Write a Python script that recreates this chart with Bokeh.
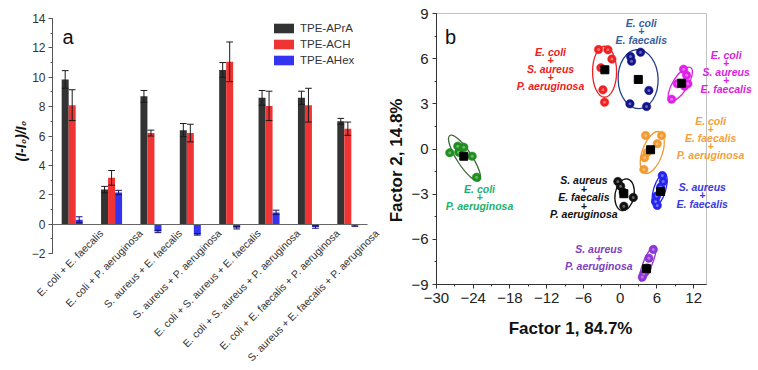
from bokeh.plotting import figure
from bokeh.models import (ColumnDataSource, Range1d, SingleIntervalTicker, FixedTicker,
                          LinearAxis, Label, LabelSet, BoxAnnotation)
from bokeh.transform import dodge
from bokeh.layouts import row
from bokeh.embed import file_html
from bokeh.resources import INLINE
from bokeh.core.properties import value

FONT = "Liberation Sans"

# ---------------- panel a data ----------------
mixtures = ["E. coli + E. faecalis", "E. coli + P. aeruginosa", "S. aureus + E. faecalis",
            "S. aureus + P. aeruginosa", "E. coli + S. aureus + E. faecalis",
            "E. coli + S. aureus + P. aeruginosa", "E. coli + E. faecalis + P. aeruginosa",
            "S. aureus + E. faecalis + P. aeruginosa"]
apra = [9.85, 2.35, 8.7, 6.4, 10.5, 8.6, 8.6, 7.0]
apra_err = [0.6, 0.22, 0.4, 0.45, 0.5, 0.5, 0.45, 0.2]
ach = [8.1, 3.15, 6.2, 6.2, 11.05, 8.05, 8.1, 6.5]
ach_err = [1.05, 0.5, 0.2, 0.6, 1.35, 1.0, 1.15, 0.45]
ahex = [0.3, 2.15, -0.5, -0.7, -0.25, 0.8, -0.2, -0.1]
ahex_err = [0.2, 0.15, 0.08, 0.05, 0.08, 0.15, 0.08, 0.05]
series_names = ["TPE-APrA", "TPE-ACH", "TPE-AHex"]

# ---------------- panel b data ----------------
green_x = [-27.83, -26.52, -25.54, -24.17, -23.46, -26.36]
green_y = [-0.25, 0.19, 0.12, -0.48, -1.87, -0.21]
red_x = [-3.53, -2.0, -1.35, -3.15, -2.82, -2.55]
red_y = [6.61, 6.59, 5.97, 5.39, 3.93, 3.11]
navy_x = [1.70, 1.86, 3.33, 4.69, 1.59, 4.31]
navy_y = [6.14, 5.83, 6.43, 3.89, 3.0, 2.82]
magenta_x = [10.36, 10.85, 9.33, 11.06, 10.52, 8.40]
magenta_y = [5.30, 4.90, 4.33, 4.33, 4.17, 3.31]
orange_x = [4.15, 6.76, 6.06, 4.43, 3.99, 3.87]
orange_y = [0.90, 0.90, 0.35, -0.21, -0.58, -1.36]
black_x = [-0.38, 0.07, 0.51, 2.14, 0.60]
black_y = [-2.16, -2.47, -2.87, -3.22, -3.80]
blue_x = [6.88, 7.04, 6.60, 5.95, 5.78, 6.06]
blue_y = [-1.76, -2.16, -2.53, -3.13, -3.48, -3.75]
purple_x = [5.41, 4.69, 4.40, 4.15, 3.87, 3.61]
purple_y = [-6.67, -7.25, -7.90, -8.13, -8.28, -8.51]

cluster_labels = ["E. coli\n+\nP. aeruginosa", "E. coli\n+\nS. aureus\n+\nP. aeruginosa",
                  "E. coli\n+\nE. faecalis", "E. coli\n+\nS. aureus\n+\nE. faecalis",
                  "E. coli\n+\nE. faecalis\n+\nP. aeruginosa",
                  "S. aureus\n+\nE. faecalis\n+\nP. aeruginosa",
                  "S. aureus\n+\nE. faecalis", "S. aureus\n+\nP. aeruginosa"]
centroid_x = [-25.54, -2.50, 2.96, 10.03, 4.97, 0.60, 6.60, 4.31]
centroid_y = [-0.48, 5.26, 4.62, 4.37, -0.05, -2.97, -2.82, -7.95]
ellipse_x = [-25.42, -2.55, 2.93, 9.82, 5.24, 0.72, 6.44, 4.50]
ellipse_y = [-0.61, 5.13, 4.64, 4.31, -0.23, -3.04, -2.71, -7.60]
label_x = [-22.97, -11.37, 3.45, 17.3, 14.77, -5.93, 13.41, -3.48]
label_y = [-3.2, 5.33, 7.82, 5.13, 0.75, -3.2, -3.08, -7.22]

# ---------------- styles (not data) ----------------
ell_major = [54, 51, 59, 39, 44, 32, 34, 38]
ell_minor = [15, 24, 40, 15, 20, 19, 12, 9]
ell_angle = [-57, 90, 92, 58, 70, 80, 73, 68]
pt_colors = ["#1e8f1e", "#ee2222", "#14148a", "#e020e8", "#f39b30", "#111111", "#2525f0", "#8f35d8"]
ell_colors = ["#3d6b3d", "#ee2222", "#1f3f8f", "#e020e8", "#f39b30", "#111111", "#2525f0", "#8f35d8"]
lab_colors = ["#22b070", "#ee2020", "#3a5fa0", "#dd22dd", "#f5a040", "#111111", "#3a3ae0", "#8040c0"]
bar_colors = ["#333333", "#f03434", "#3434f0"]
bar_offsets = [-0.178, 0.0, 0.178]
LINE_STEP = 8.4  # px between stacked label lines

H = 368          # canvas height of both panels
W1, W2 = 384, 372


def span_range(v0, px0, v1, px1, size):
    """Range whose values v0/v1 fall at canvas pixels px0/px1 (frame = whole canvas)."""
    scale = (px1 - px0) / (v1 - v0)
    start = v0 - px0 / scale
    return Range1d(start, start + size / scale)


# ================= panel a =================
n = len(mixtures)
p1 = figure(width=W1, height=H, title=None,
            x_range=span_range(0, 52, n, 367, W1),
            y_range=span_range(-2, H - 253, 14, H - 18, H),
            x_axis_type=None, y_axis_type=None,
            output_backend="svg", toolbar_location=None,
            min_border_left=0, min_border_right=0, min_border_top=0, min_border_bottom=0)
p1.outline_line_color = None
p1.grid.visible = False

src1 = ColumnDataSource(dict(
    pos=[i + 0.5 for i in range(n)], mix=mixtures,
    v0=apra, v1=ach, v2=ahex,
    lo0=[v - e for v, e in zip(apra, apra_err)], hi0=[v + e for v, e in zip(apra, apra_err)],
    lo1=[v - e for v, e in zip(ach, ach_err)], hi1=[v + e for v, e in zip(ach, ach_err)],
    lo2=[v - e for v, e in zip(ahex, ahex_err)], hi2=[v + e for v, e in zip(ahex, ahex_err)],
))

for i, name in enumerate(series_names):
    p1.vbar(x=dodge("pos", bar_offsets[i]), top="v%d" % i, width=0.178, source=src1,
            fill_color=bar_colors[i], line_color=None, legend_label=name)
for i in range(3):
    off = bar_offsets[i]
    ec = "#1a1a1a" if i != 2 else "#10106a"
    p1.segment(x0=dodge("pos", off), y0="lo%d" % i, x1=dodge("pos", off), y1="hi%d" % i,
               source=src1, line_color=ec, line_width=1)
    for end in ("lo", "hi"):
        p1.segment(x0=dodge("pos", off - 0.085), y0="%s%d" % (end, i),
                   x1=dodge("pos", off + 0.085), y1="%s%d" % (end, i),
                   source=src1, line_color=ec, line_width=1)

# axes placed inside the frame
ax_x1 = LinearAxis(fixed_location=0, bounds=(0, n), ticker=FixedTicker(ticks=[]),
                   axis_line_color="#666666", major_label_text_font_size="0px")
p1.add_layout(ax_x1, "below")
ax_y1 = LinearAxis(fixed_location=0, bounds=(-2, 14),
                   ticker=SingleIntervalTicker(interval=2, num_minor_ticks=2))
ax_y1.major_label_text_font = FONT
ax_y1.major_label_text_font_size = "12px"
ax_y1.major_label_text_color = "#333333"
ax_y1.major_label_standoff = 3
ax_y1.axis_line_color = "#555555"
ax_y1.major_tick_line_color = "#555555"
ax_y1.minor_tick_line_color = "#555555"
ax_y1.major_tick_out = 4
ax_y1.major_tick_in = 0
ax_y1.minor_tick_out = 2
ax_y1.minor_tick_in = 0
p1.add_layout(ax_y1, "left")

p1.add_layout(Label(x=-0.81, y=5.65, text="(I-I\u2080)/I\u2080", angle=90, angle_units="deg",
                    text_align="center", text_baseline="middle", text_font=FONT,
                    text_font_style="bold italic", text_font_size="14px", text_color="#111111"))

p1.text(x=dodge("pos", 0.63), y=-0.2, text="mix", source=src1, angle=45, angle_units="deg",
        text_align="right", text_baseline="top", text_font=value(FONT),
        text_font_size="10.5px", text_color="#333333")

p1.add_layout(Label(x=0.254, y=12.73, text="a", text_font=FONT, text_font_size="20px",
                    text_baseline="alphabetic", text_color="#111111"))

p1.legend.location = (271, H - 66)
p1.legend.margin = 0
p1.legend.padding = 2
p1.legend.spacing = 4
p1.legend.glyph_width = 25
p1.legend.glyph_height = 12
p1.legend.label_height = 12
p1.legend.label_standoff = 4
p1.legend.label_text_font = FONT
p1.legend.label_text_font_size = "11.5px"
p1.legend.label_text_color = "#333333"
p1.legend.border_line_color = None
p1.legend.background_fill_alpha = 0

# ================= panel b =================
X2 = W1  # page x where panel b's canvas starts
p2 = figure(width=W2, height=H, title=None,
            x_range=span_range(-30, 436 - X2, 14.1, 706 - X2, W2),
            y_range=span_range(-9, H - 284, 9, H - 13, H),
            x_axis_type=None, y_axis_type=None,
            output_backend="svg", toolbar_location=None,
            min_border_left=0, min_border_right=0, min_border_top=0, min_border_bottom=0)
p2.grid.visible = False
p2.outline_line_color = None
p2.add_layout(BoxAnnotation(left=-30, right=14.1, bottom=-9, top=9, fill_alpha=0,
                            line_color="#333333", line_width=1, level="underlay"))

clusters_x = [green_x, red_x, navy_x, magenta_x, orange_x, black_x, blue_x, purple_x]
clusters_y = [green_y, red_y, navy_y, magenta_y, orange_y, black_y, blue_y, purple_y]

p2.ellipse(x=ellipse_x, y=ellipse_y, width=ell_major, height=ell_minor, angle=ell_angle,
           angle_units="deg", width_units="screen", height_units="screen",
           fill_color=None, line_color=ell_colors, line_width=1.3)
for xs, ys, c in zip(clusters_x, clusters_y, pt_colors):
    p2.scatter(xs, ys, size=8.5, fill_color=c, line_color=c, line_width=0.5)
    p2.scatter(xs, ys, size=3, fill_color="white", fill_alpha=0.35, line_color=None)
p2.scatter(centroid_x, centroid_y, marker="square", size=8, fill_color="black", line_color="black")

# one centred row per text line, stacked around the label centre
lx, ly, lt, lc, loff = [], [], [], [], []
for x, y, txt, col in zip(label_x, label_y, cluster_labels, lab_colors):
    lines = txt.split("\n")
    for k, line in enumerate(lines):
        lx.append(x)
        ly.append(y)
        lt.append(line)
        lc.append(col)
        loff.append(((len(lines) - 1) / 2 - k) * LINE_STEP)
src_lab = ColumnDataSource(dict(x=lx, y=ly, text=lt, color=lc, yoff=loff))
p2.add_layout(LabelSet(x="x", y="y", text="text", source=src_lab, text_color="color",
                       y_offset="yoff", text_align="center", text_baseline="middle",
                       text_font=value(FONT), text_font_style="bold italic",
                       text_font_size="10.5px"))

p2.add_layout(Label(x=-28.6, y=7.45, text="b", text_font=FONT, text_font_size="20px",
                    text_baseline="alphabetic", text_color="#111111"))

ax_x2 = LinearAxis(fixed_location=-9, bounds=(-30, 14.1),
                   ticker=SingleIntervalTicker(interval=6, num_minor_ticks=2))
ax_y2 = LinearAxis(fixed_location=-30, bounds=(-9, 9),
                   ticker=SingleIntervalTicker(interval=3, num_minor_ticks=2))
for ax in (ax_x2, ax_y2):
    ax.major_label_text_font = FONT
    ax.major_label_text_font_size = "15px"
    ax.major_label_text_color = "#222222"
    ax.major_label_standoff = 4
    ax.axis_line_color = "#333333"
    ax.major_tick_line_color = "#333333"
    ax.minor_tick_line_color = "#333333"
    ax.major_tick_out = 4
    ax.major_tick_in = 0
    ax.minor_tick_out = 2
    ax.minor_tick_in = 0
p2.add_layout(ax_x2, "below")
p2.add_layout(ax_y2, "left")

p2.add_layout(Label(x=-8.1, y=-11.95, text="Factor 1, 84.7%", text_align="center",
                    text_baseline="middle", text_font=FONT, text_font_style="bold",
                    text_font_size="17px", text_color="#111111"))
p2.add_layout(Label(x=-36.6, y=-0.76, text="Factor 2, 14.8%", angle=90, angle_units="deg",
                    text_align="center", text_baseline="middle", text_font=FONT,
                    text_font_style="bold", text_font_size="17px", text_color="#111111"))

layout = row(p1, p2)
open("out.html", "w").write(file_html(layout, INLINE))
